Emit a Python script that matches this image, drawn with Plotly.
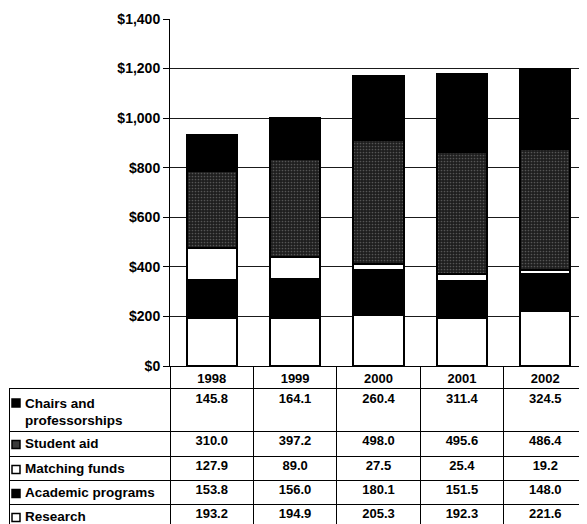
import plotly.graph_objects as go

# ---- data ----
years = ["1998", "1999", "2000", "2001", "2002"]
research = [193.2, 194.9, 205.3, 192.3, 221.6]
academic = [153.8, 156.0, 180.1, 151.5, 148.0]
matching = [127.9, 89.0, 27.5, 25.4, 19.2]
student_aid = [310.0, 397.2, 498.0, 495.6, 486.4]
chairs = [145.8, 164.1, 260.4, 311.4, 324.5]
y_tickvals = [0, 200, 400, 600, 800, 1000, 1200, 1400]
y_ticktext = ["$0", "$200", "$400", "$600", "$800", "$1,000", "$1,200", "$1,400"]
row_names = ["Chairs and<br>professorships", "Student aid", "Matching funds",
             "Academic programs", "Research"]

# ---- layout constants (window pixels; body margin of the page is 8px) ----
OFF = 8
W, H = 587 - OFF, 524 - OFF
axis_x = 170 - OFF          # y-axis line
top_y = 19 - OFF            # $1,400
zero_y = 366 - OFF          # $0
head_bot = 389 - OFF        # bottom of year header row
table_left = 10 - OFF
unit = (W - axis_x) / 5.0   # px per category
row_heights = [42, 25, 24, 24, 24]
FONT = "Liberation Sans"

def x2_of(px):  # figure px -> table x units (aligned with bar categories)
    return -0.5 - (axis_x - px) / unit

fig = go.Figure()

# ---- stacked bars ----
series = [
    ("Research", research, "white", None),
    ("Academic programs", academic, "black", None),
    ("Matching funds", matching, "white", None),
    ("Student aid", student_aid, "#262626",
     dict(shape=".", fgcolor="#8c8c8c", bgcolor="#1e1e1e", size=3, solidity=0.25)),
    ("Chairs and professorships", chairs, "black", None),
]
for name, vals, col, pat in series:
    marker = dict(color=col, line=dict(color="black", width=2))
    if pat:
        marker["pattern"] = pat
    fig.add_trace(go.Bar(x=years, y=vals, name=name, marker=marker,
                         xaxis="x", yaxis="y", showlegend=False, hoverinfo="skip"))

# ---- data table (drawn on its own axes) ----
rows = [chairs, student_aid, matching, academic, research]
tops = [sum(row_heights[:i]) for i in range(len(row_heights))]
val_x, val_y, val_t = [], [], []
for r, vals in enumerate(rows):
    for i, v in enumerate(vals):
        val_x.append(i)
        val_y.append(tops[r] + 11)
        val_t.append("<b>%.1f</b>" % v)
fig.add_trace(go.Scatter(x=val_x, y=val_y, text=val_t, mode="text",
                         textposition="middle center",
                         textfont=dict(family=FONT, size=13, color="black"),
                         xaxis="x2", yaxis="y2", showlegend=False, hoverinfo="skip"))

lab_y = [tops[0] + 24] + [tops[r] + 13.5 for r in range(1, 5)]
fig.add_trace(go.Scatter(x=[x2_of(25 - OFF)] * 5, y=lab_y,
                         text=["<b>%s</b>" % n for n in row_names], mode="text",
                         textposition="middle right",
                         textfont=dict(family=FONT, size=13.5, color="black"),
                         xaxis="x2", yaxis="y2", showlegend=False, hoverinfo="skip"))

sym_y = [tops[0] + 14] + lab_y[1:]
fig.add_trace(go.Scatter(x=[x2_of(16 - OFF)] * 5, y=sym_y, mode="markers",
                         marker=dict(symbol="square", size=8,
                                     color=["black", "#3a3a3a", "white", "black", "white"],
                                     line=dict(color="black", width=1.5)),
                         xaxis="x2", yaxis="y2", showlegend=False, hoverinfo="skip"))

body_h = H - head_bot
fig.update_layout(
    width=W, height=H,
    margin=dict(l=0, r=0, t=0, b=0),
    paper_bgcolor="white", plot_bgcolor="white",
    barmode="stack", bargap=0.4,
    xaxis=dict(domain=[axis_x / W, 1], type="category", range=[-0.5, 4.5],
               showline=True, linecolor="black", linewidth=1, showgrid=False,
               tickson="boundaries", ticks="outside", ticklen=head_bot - zero_y,
               tickcolor="black", tickwidth=1,
               tickvals=years, ticktext=["<b>%s</b>" % y for y in years],
               ticklabelstandoff=0,
               tickfont=dict(family=FONT, size=13, color="black")),
    yaxis=dict(domain=[(H - zero_y) / H, 1 - top_y / H], range=[0, 1400],
               tickvals=y_tickvals, ticktext=["<b>%s</b>" % t for t in y_ticktext],
               showline=True, linecolor="black", linewidth=1,
               ticks="outside", ticklen=6, tickcolor="black",
               showgrid=True, gridcolor="#1a1a1a", gridwidth=1,
               zeroline=False, automargin=False,
               tickfont=dict(family=FONT, size=14, color="black")),
    xaxis2=dict(domain=[table_left / W, 1], anchor="y2",
                range=[x2_of(table_left), 4.5],
                tickvals=[-0.5, 0.5, 1.5, 2.5, 3.5], showticklabels=False, ticks="",
                showgrid=True, gridcolor="black", gridwidth=1,
                showline=True, mirror=True, linecolor="black", linewidth=1,
                zeroline=False, fixedrange=True),
    yaxis2=dict(domain=[0, body_h / H], anchor="x2",
                range=[body_h, 0],
                tickvals=tops[1:], showticklabels=False, ticks="",
                showgrid=True, gridcolor="black", gridwidth=1,
                showline=True, linecolor="black", linewidth=1,
                zeroline=False, fixedrange=True),
)

fig.write_html("out.html")
